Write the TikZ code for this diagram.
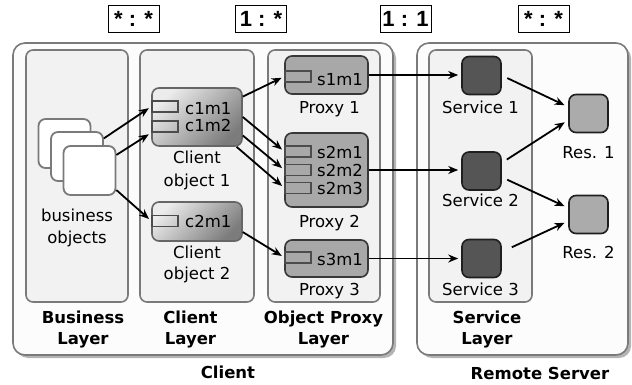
\documentclass[tikz,border=0pt]{standalone}
\usepackage{fontspec}
\setmainfont{DejaVu Sans}
\newfontfamily\ratiofont{Liberation Sans}
\usetikzlibrary{arrows.meta}

\definecolor{edgegray}{HTML}{7A7A7A}
\definecolor{boxwhite}{HTML}{FCFCFC}
\definecolor{panelgray}{HTML}{F2F2F2}
\definecolor{shadowgray}{HTML}{B4B4B4}
\definecolor{objlight}{HTML}{ECECEC}
\definecolor{objdark}{HTML}{7C7C7C}
\definecolor{proxygray}{HTML}{A8A8A8}
\definecolor{servicegray}{HTML}{555555}
\definecolor{resgray}{HTML}{ABABAB}

\tikzset{
  every node/.style={font=\fontsize{16.5}{21.5}\selectfont, inner sep=0pt},
  outerbox/.style={draw=edgegray, fill=boxwhite, line width=1.6pt, rounded corners=12pt},
  shadowbox/.style={fill=shadowgray, rounded corners=12pt},
  panel/.style={draw=edgegray, fill=panelgray, line width=1.6pt, rounded corners=7pt},
  card/.style={draw=edgegray, fill=white, line width=1.8pt, rounded corners=7pt,
    minimum width=52pt, minimum height=49pt},
  clientobj/.style={draw=black!60, line width=1.6pt, rounded corners=7pt,
    top color=objlight, bottom color=objdark, shading angle=45, minimum width=90pt},
  proxy/.style={draw=black!78, fill=proxygray, line width=1.6pt, rounded corners=7pt,
    minimum width=83pt},
  port/.style={draw=black!70, line width=1.3pt, minimum width=26pt, minimum height=11pt},
  service/.style={draw=black!88, fill=servicegray, line width=1.6pt, rounded corners=7pt,
    minimum width=39pt, minimum height=38pt},
  res/.style={service, fill=resgray},
  ratio/.style={draw=black, fill=white, line width=0.8pt, minimum width=51pt, minimum height=27pt,
    font=\ratiofont\bfseries\fontsize{22}{24}\selectfont},
  layertitle/.style={align=center, font=\bfseries\fontsize{16.5}{21.5}\selectfont},
  arr/.style={-{Stealth[length=10pt,width=8pt]}, line width=1.8pt},
}

\begin{document}
\begin{tikzpicture}[x=1pt,y=-1pt]
  \useasboundingbox (0,0) rectangle (632,385);

  % multiplicities
  \node[ratio] (r1) at (133.5,18.5) {* : *};
  \node[ratio] (r2) at (261,18.5) {1 : *};
  \node[ratio] (r3) at (405.5,18.5) {1 : 1};
  \node[ratio] (r4) at (543.5,18.5) {* : *};

  % client and server frames
  \fill[shadowbox] (16,46) rectangle (396,358);
  \fill[shadowbox] (420,46) rectangle (631,358);
  \draw[outerbox] (13,43) rectangle (393,355);
  \draw[outerbox] (417,43) rectangle (628,355);

  % layers
  \draw[panel] (26,50) rectangle (128,302);
  \draw[panel] (140,50) rectangle (254,302);
  \draw[panel] (268,50) rectangle (380,302);
  \draw[panel] (429,50) rectangle (532,302);

  % business objects
  \node[card] (bo1) at (64.5,143.5) {};
  \node[card] (bo2) at (77,156.5) {};
  \node[card] (bo3) at (89.5,170.5) {};
  \node[anchor=base] at (77,221) {business};
  \node[anchor=base] at (77,243) {objects};

  % client objects
  \node[clientobj, minimum height=58pt] (c1) at (197,117) {};
  \node[port] (c1m1) at (165,106.5) {};
  \node[port] (c1m2) at (165,126.5) {};
  \node[anchor=base west] at (185,115) {c1m1};
  \node[anchor=base west] at (185,132) {c1m2};
  \node[anchor=base] at (197,164) {Client};
  \node[anchor=base] at (197,186) {object 1};

  \node[clientobj, minimum height=39pt] (c2) at (197,221.5) {};
  \node[port] (c2m1) at (165,221) {};
  \node[anchor=base west] at (185,227) {c2m1};
  \node[anchor=base] at (197,258) {Client};
  \node[anchor=base] at (197,279) {object 2};

  % proxies
  \node[proxy, minimum height=38pt] (p1) at (326.5,75) {};
  \node[port] (s1m1) at (298,76.5) {};
  \node[anchor=base west] at (317,85.5) {s1m1};
  \node[anchor=base] at (329.5,114) {Proxy 1};

  \node[proxy, minimum height=74pt] (p2) at (326.5,170) {};
  \node[port] (s2m1) at (298,151.5) {};
  \node[port] (s2m2) at (298,170) {};
  \node[port] (s2m3) at (298,188) {};
  \node[anchor=base west] at (317,158) {s2m1};
  \node[anchor=base west] at (317,176) {s2m2};
  \node[anchor=base west] at (317,194) {s2m3};
  \node[anchor=base] at (329.5,227) {Proxy 2};

  \node[proxy, minimum height=37pt] (p3) at (326.5,258.5) {};
  \node[port] (s3m1) at (298,257.5) {};
  \node[anchor=base west] at (317,265) {s3m1};
  \node[anchor=base] at (329.5,295) {Proxy 3};

  % services and resources
  \node[service] (sv1) at (481.5,75.5) {};
  \node[service] (sv2) at (481.5,171) {};
  \node[service] (sv3) at (481.5,258.5) {};
  \node[anchor=base] at (480.5,114) {Service 1};
  \node[anchor=base] at (480.5,207) {Service 2};
  \node[anchor=base] at (480.5,295) {Service 3};

  \node[res] (res1) at (588.5,113.5) {};
  \node[res] (res2) at (588.5,214.5) {};
  \node[anchor=base] at (588.5,158) {Res. 1};
  \node[anchor=base] at (588.5,258) {Res. 2};

  % layer titles
  \node[layertitle, anchor=base] at (83,323) {Business};
  \node[layertitle, anchor=base] at (83,344) {Layer};
  \node[layertitle, anchor=base] at (190.5,323) {Client};
  \node[layertitle, anchor=base] at (190.5,344) {Layer};
  \node[layertitle, anchor=base] at (323.5,323) {Object Proxy};
  \node[layertitle, anchor=base] at (323.5,344) {Layer};
  \node[layertitle, anchor=base] at (487,323) {Service};
  \node[layertitle, anchor=base] at (487,344) {Layer};
  \node[layertitle, anchor=base] at (228,378) {Client};
  \node[layertitle, anchor=base] at (540,379) {Remote Server};

  % calls
  \draw[arr, shorten >=3pt] (bo2.34) -- (c1m1.west);
  \draw[arr, shorten >=3pt] (bo3.30) -- (c1m2.south west);
  \draw[arr, shorten >=3pt] (bo3.-36) -- (c2m1.west);

  \draw[arr, shorten >=3pt] (c1.24) -- (s1m1.west);
  \draw[arr, shorten >=3pt] (c1.east) -- (s2m1.west);
  \draw[arr, shorten >=3pt] (c1.-22) -- (s2m2.west);
  \draw[arr, shorten >=3pt] (c1.-37) -- (s2m3.west);
  \draw[arr, shorten >=3pt] (c2.-13) -- (s3m1.west);

  \draw[arr, shorten >=3pt] (p1.east) -- (p1.east -| sv1.west);
  \draw[arr, shorten >=3pt] (p2.east) -- (p2.east -| sv2.west);
  \draw[arr, shorten >=3pt] (p3.east) -- (p3.east -| sv3.west);

  \draw[arr, shorten <=6pt, shorten >=4pt] (sv1.east) -- (res1.162);
  \draw[arr, shorten <=6pt, shorten >=4pt] (sv2.22) -- (res1.198);
  \draw[arr, shorten <=6pt, shorten >=4pt] (sv2.-17) -- (res2.162);
  \draw[arr, shorten <=11pt, shorten >=4pt] (sv3.18) -- (res2.198);
\end{tikzpicture}
\end{document}
